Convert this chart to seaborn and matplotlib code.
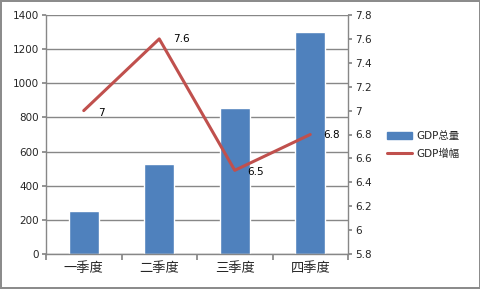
import matplotlib
matplotlib.use("Agg")
import matplotlib.pyplot as plt
import seaborn as sns
import pandas as pd
from matplotlib.patches import Patch
from matplotlib.lines import Line2D

quarters = ["一季度", "二季度", "三季度", "四季度"]
gdp_total = [250, 525, 853, 1300]
gdp_growth = [7.0, 7.6, 6.5, 6.8]
growth_labels = ["7", "7.6", "6.5", "6.8"]

sns.set_theme(style="white")
plt.rcParams["font.family"] = ["DejaVu Sans", "Noto Sans CJK SC"]

bar_color = "#4F81BD"
line_color = "#C0504D"
grid_color = "#878787"

df = pd.DataFrame({"quarter": quarters, "total": gdp_total, "growth": gdp_growth})

fig = plt.figure(figsize=(4.81, 2.89), dpi=100, linewidth=1.5, edgecolor="#8c8c8c")
ax = fig.add_axes([46/481, 1-254/289, (348-46)/481, (254-15)/289])

sns.barplot(data=df, x="quarter", y="total", order=quarters, color=bar_color,
            width=0.4, saturation=1, ax=ax)
ax.set_ylim(0, 1400)
ax.set_yticks(range(0, 1401, 200))
ax.set_xlim(-0.5, 3.5)
ax.set_xlabel("")
ax.set_ylabel("")
ax.yaxis.grid(True, color=grid_color, linewidth=1)
ax.set_axisbelow(True)
for s in ["top", "right"]:
    ax.spines[s].set_visible(False)
for s in ["left", "bottom"]:
    ax.spines[s].set_color(grid_color)
    ax.spines[s].set_linewidth(1)
ax.tick_params(axis="y", left=True, length=3, color=grid_color, labelsize=7.5, pad=2)
ax.set_xticks([-0.5, 0.5, 1.5, 2.5, 3.5], minor=False)
ax.set_xticklabels([])
ax.set_xticks([0, 1, 2, 3], minor=True)
ax.set_xticklabels(quarters, minor=True, family=["Noto Sans CJK SC"], fontsize=9.5)
ax.tick_params(axis="x", which="major", bottom=True, length=4, color=grid_color, direction="out")
ax.tick_params(axis="x", which="minor", bottom=False, length=0, pad=6)

ax2 = ax.twinx()
sns.lineplot(x=[0, 1, 2, 3], y=df["growth"].values, color=line_color, linewidth=2.2, ax=ax2)
ax2.set_ylim(5.8, 7.8)
ax2.set_yticks([5.8, 6.0, 6.2, 6.4, 6.6, 6.8, 7.0, 7.2, 7.4, 7.6, 7.8])
ax2.set_yticklabels(["5.8", "6", "6.2", "6.4", "6.6", "6.8", "7", "7.2", "7.4", "7.6", "7.8"])
ax2.set_xlim(-0.5, 3.5)
for s in ["top", "left", "bottom"]:
    ax2.spines[s].set_visible(False)
ax2.spines["right"].set_color(grid_color)
ax2.spines["right"].set_linewidth(1)
ax2.tick_params(axis="y", right=True, length=3, color=grid_color, labelsize=7.5, pad=2)
ax2.grid(False)

offsets = [(10, -1.5), (10, 0), (9, -1), (9, 0)]
for i, (v, lab) in enumerate(zip(gdp_growth, growth_labels)):
    ax2.annotate(lab, (i, v), xytext=offsets[i], textcoords="offset points",
                 fontsize=7.5, ha="left", va="center", color="black")

handles = [Patch(facecolor=bar_color, edgecolor=bar_color),
           Line2D([0], [0], color=line_color, linewidth=2.2)]
fig.legend(handles, ["GDP总量", "GDP增幅"], loc="center left",
           bbox_to_anchor=(378/481, 1-145/289), frameon=False,
           prop={"family": ["DejaVu Sans", "Noto Sans CJK SC"], "size": 7.5},
           handlelength=2.4, handletextpad=0.4, labelspacing=0.7)

fig.savefig("out.png", dpi=100, edgecolor=fig.get_edgecolor(), facecolor="white")
